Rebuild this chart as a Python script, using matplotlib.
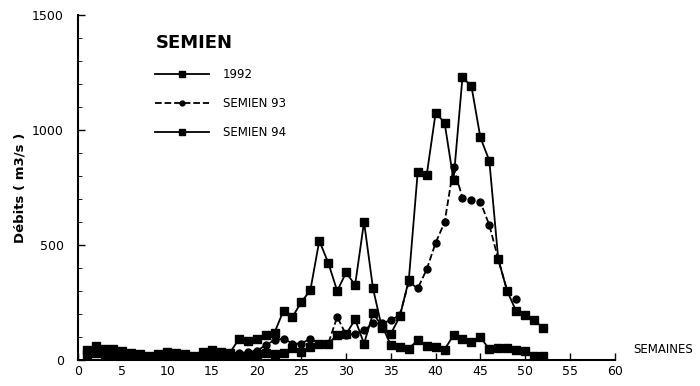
import matplotlib.pyplot as plt

weeks_a = list(range(1, 53))
debit_1992 = [45, 60, 50, 50, 40, 30, 25, 20, 25, 35, 30, 25, 20, 35, 45, 35, 32,
              90, 85, 90, 110, 120, 215, 188, 253, 304, 519, 423, 301, 381, 326, 601,
              312, 140, 115, 190, 348, 819, 804, 1075, 1032, 783, 1229, 1191, 968, 867,
              438, 300, 213, 196, 174, 140]

weeks_b = list(range(1, 53))
debit_94 = [25, 30, 25, 25, 20, 15, 12, 10, 12, 15, 12, 10, 10, 15, 20, 20, 20,
            20, 20, 25, 30, 26, 32, 51, 36, 58, 70, 72, 109, 113, 177, 72,
            203, 150, 65, 58, 50, 87, 61, 55, 46, 109, 94, 80, 99, 48,
            54, 54, 43, 40, 17, 17]

weeks_c = list(range(14, 50))
debit_93 = [25, 30, 25, 25, 30, 35, 40, 65, 87, 94, 72, 72, 94, 70, 72, 188,
            110, 113, 130, 160, 160, 174, 196, 340, 312, 394, 510, 599, 838, 706,
            696, 688, 587, 438, 301, 264]

fig = plt.figure(figsize=(7, 3.86), dpi=100)
ax = fig.add_axes([0.111, 0.067, 0.767, 0.894])

ax.plot(weeks_a, debit_1992, '-', color='black', lw=1.3, marker='s', ms=5.5, label='1992')
ax.plot(weeks_c, debit_93, '--', color='black', lw=1.3, marker='o', ms=5, label='SEMIEN 93')
ax.plot(weeks_b, debit_94, '-', color='black', lw=1.3, marker='s', ms=5.5, label='SEMIEN 94')

ax.set_xlim(0, 60)
ax.set_ylim(0, 1500)
ax.set_xticks(range(0, 61, 5))
ax.set_yticks([0, 500, 1000, 1500])
ax.set_yticks(range(0, 1501, 100), minor=True)
ax.tick_params(direction='in', length=5, width=1, labelsize=9)
ax.tick_params(axis='y', pad=10)
ax.tick_params(which='minor', direction='in', length=3)
ax.spines['top'].set_visible(False)
ax.spines['right'].set_visible(False)
ax.spines['left'].set_linewidth(1.5)
ax.spines['bottom'].set_linewidth(1.5)

ax.set_ylabel('Débits ( m3/s )', fontsize=9.5, fontweight='bold', labelpad=4)
fig.text(0.905, 0.085, 'SEMAINES', fontsize=8.5)

leg = ax.legend(loc='upper left', bbox_to_anchor=(0.125, 0.975), frameon=False,
                title='SEMIEN', handlelength=4.5, labelspacing=1.35, fontsize=8.5,
                markerscale=0.7, handletextpad=1.2)
leg.get_title().set_fontweight('bold')
leg.get_title().set_fontsize(13)
leg._legend_box.align = 'left'

fig.savefig('out.png')
